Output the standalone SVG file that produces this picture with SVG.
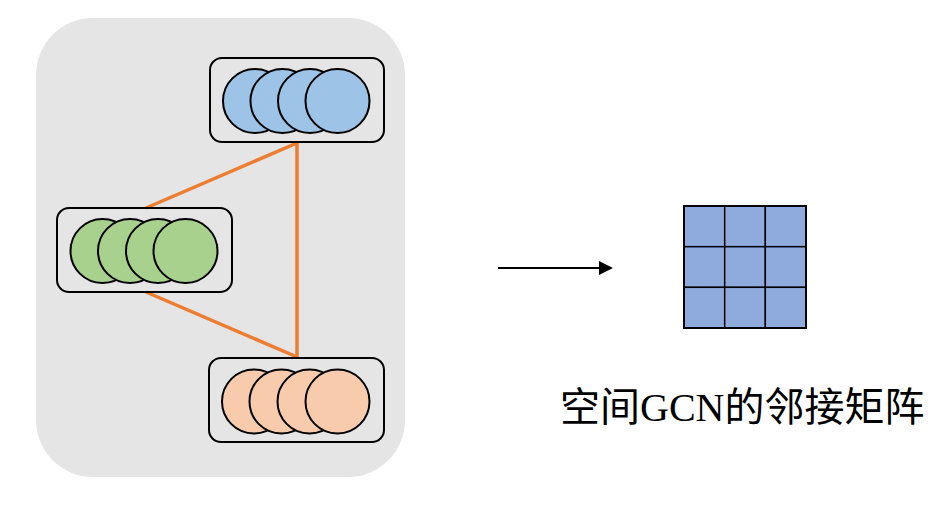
<svg xmlns="http://www.w3.org/2000/svg" width="952" height="508" viewBox="0 0 952 508">
<style>
.box{fill:none;stroke:#000;stroke-width:2}
.c{stroke:#000;stroke-width:2}
.blue{fill:#9dc3e6}
.green{fill:#a9d18e}
.orange{fill:#f8cbad}
.edge{stroke:#ed7d31;stroke-width:3.5;fill:none}
.cell{fill:#8faadc;stroke:#000;stroke-width:1.5}
.lbl{font-family:"Liberation Serif","Noto Sans CJK SC",serif;font-size:40px;fill:#000}
</style>
<defs>
<marker id="ah" markerWidth="8" markerHeight="8" refX="7" refY="4" orient="auto" markerUnits="userSpaceOnUse" viewBox="0 0 8 8">
<path d="M0,0 L8,4 L0,8 Z" fill="#000"/>
</marker>
</defs>
<rect id="panel" x="36" y="18" width="369" height="459" rx="57" fill="#e5e5e5"/>
<g id="connectors">
<line class="edge" x1="297" y1="143" x2="146" y2="208"/>
<line class="edge" x1="297" y1="143" x2="297" y2="357"/>
<line class="edge" x1="146" y1="292" x2="297" y2="357"/>
<line x1="498" y1="268" x2="606" y2="268" stroke="#000" stroke-width="2.2"/>
<path d="M599,261 L613,268 L599,275 Z" fill="#000"/>
</g>
<g id="node-blue">
<rect class="box" x="210" y="58" width="174" height="84" rx="12"/>
<circle class="c blue" cx="255" cy="101" r="32"/>
<circle class="c blue" cx="282.5" cy="101" r="32"/>
<circle class="c blue" cx="310" cy="101" r="32"/>
<circle class="c blue" cx="337.5" cy="101" r="32"/>
</g>
<g id="node-green">
<rect class="box" x="57" y="208" width="175" height="84" rx="12"/>
<circle class="c green" cx="102.5" cy="251" r="32"/>
<circle class="c green" cx="130" cy="251" r="32"/>
<circle class="c green" cx="158" cy="251" r="32"/>
<circle class="c green" cx="185.5" cy="251" r="32"/>
</g>
<g id="node-orange">
<rect class="box" x="209" y="358" width="175" height="84" rx="12"/>
<circle class="c orange" cx="254" cy="401.5" r="32"/>
<circle class="c orange" cx="281.5" cy="401.5" r="32"/>
<circle class="c orange" cx="309.5" cy="401.5" r="32"/>
<circle class="c orange" cx="337.5" cy="401.5" r="32"/>
</g>
<g id="matrix">
<rect class="cell" x="684" y="206" width="40.7" height="40.7"/>
<rect class="cell" x="724.7" y="206" width="40.7" height="40.7"/>
<rect class="cell" x="765.3" y="206" width="40.7" height="40.7"/>
<rect class="cell" x="684" y="246.7" width="40.7" height="40.7"/>
<rect class="cell" x="724.7" y="246.7" width="40.7" height="40.7"/>
<rect class="cell" x="765.3" y="246.7" width="40.7" height="40.7"/>
<rect class="cell" x="684" y="287.3" width="40.7" height="40.7"/>
<rect class="cell" x="724.7" y="287.3" width="40.7" height="40.7"/>
<rect class="cell" x="765.3" y="287.3" width="40.7" height="40.7"/>
<rect x="684" y="206" width="122" height="122" fill="none" stroke="#000" stroke-width="2"/>
</g>
<g id="label">
<text class="lbl" x="560" y="421">空间GCN的邻接矩阵</text>
</g>
</svg>
